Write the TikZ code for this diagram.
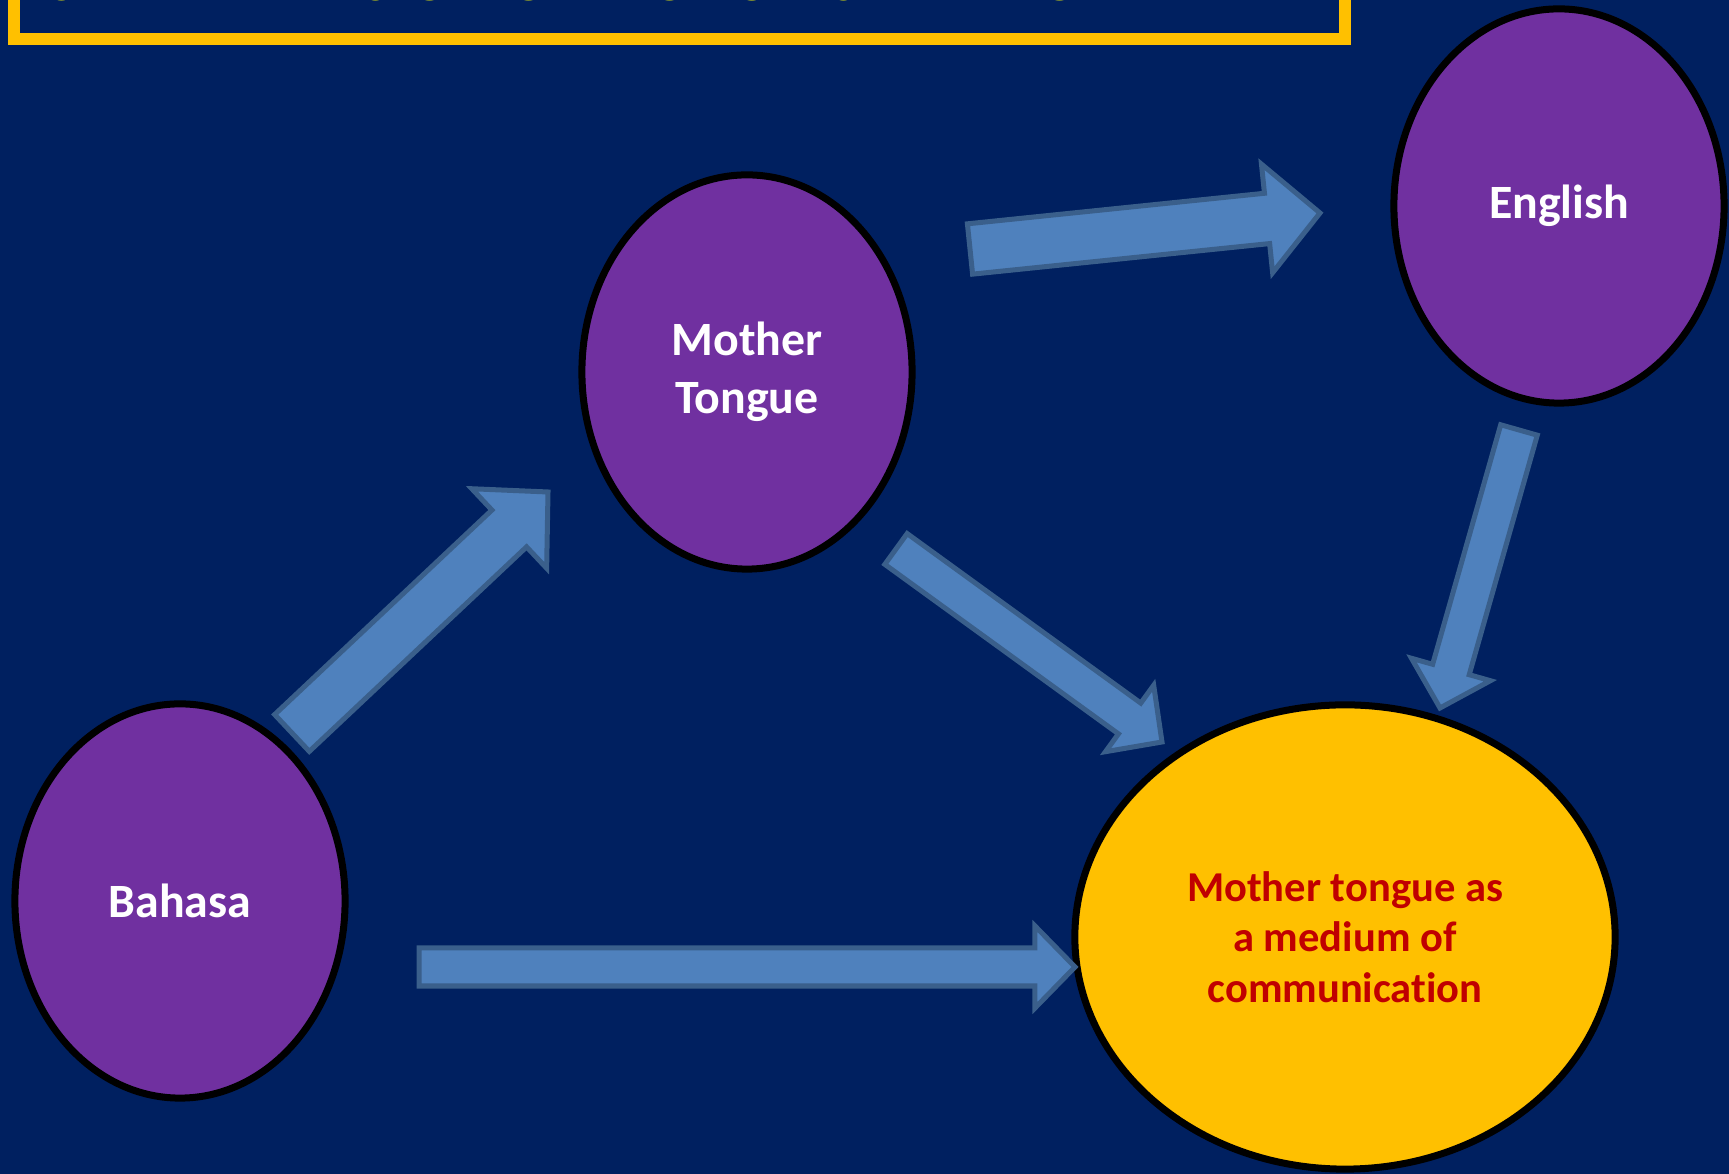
\documentclass[tikz,border=0pt]{standalone}
\usepackage{fontspec}
\setmainfont{Carlito}[Ligatures=NoCommon]
\usetikzlibrary{shapes.geometric,calc}
\definecolor{slidebg}{HTML}{002060}
\definecolor{langpurple}{HTML}{7030A0}
\definecolor{goldfill}{HTML}{FFC000}
\definecolor{arrowfill}{HTML}{4F81BD}
\definecolor{arrowline}{HTML}{3A5F8B}
\definecolor{darkred}{HTML}{C00000}
\definecolor{titleyellow}{HTML}{FFFF00}

\tikzset{%
  % Specifications for style of nodes:
        lang/.style = {ellipse, draw=black, line width=0.07cm, fill=langpurple,
                       minimum width=3.30cm, minimum height=3.94cm, inner sep=0pt,
                       text=white, align=center,
                       font=\fontsize{13.6}{16.6}\selectfont\bfseries},
        goal/.style = {lang, fill=goldfill, text=darkred,
                       minimum width=5.40cm, minimum height=4.64cm,
                       font=\fontsize{12.1}{14.4}\selectfont\bfseries},
  blockarrow/.style = {fill=arrowfill, draw=arrowline, line width=0.05cm, line join=miter},
}

% fat arrow from #2 to #3, #1 = size factor
\newcommand{\blockarrow}[3][1]{%
  \coordinate (ab) at ($(#3)!#1*0.40cm!(#2)$);
  \draw[blockarrow] ($(#2)!#1*0.19cm!90:(#3)$) -- ($(ab)!#1*0.19cm!-90:(#2)$)
    -- ($(ab)!#1*0.41cm!-90:(#2)$) -- (#3) -- ($(ab)!#1*0.41cm!90:(#2)$)
    -- ($(ab)!#1*0.19cm!90:(#2)$) -- ($(#2)!#1*0.19cm!-90:(#3)$) -- cycle;
}

\begin{document}
\begin{tikzpicture}[x=0.01cm, y=-0.01cm]
  \useasboundingbox (0,0) rectangle (1729,1174);
  \fill[slidebg] (0,0) rectangle (1729,1174);

  % title frame (cut by the top of the slide)
  \node (title) [anchor=base west, text=titleyellow, font=\fontsize{18}{20}\selectfont\bfseries]
    at (33,1) {3 MAIN VERSION OF MODULES DEVELOPMENT};
  \draw[goldfill, line width=0.12cm] (14,-100) rectangle (1345,39);

  % Specification of nodes (position, etc.)
  \node (mother)  [lang] at (747,372) {Mother\\Tongue};
  \node (english) [lang] at (1559,206) {English};
  \node (bahasa)  [lang] at (180,901) {Bahasa};
  \node (medium)  [goal] at (1345,937) {Mother tongue as\\a medium of\\communication};

  % arrow ends
  \coordinate (b2m-s) at (292,733);  \coordinate (b2m-e) at (548,492);
  \coordinate (m2e-s) at (970,249);  \coordinate (m2e-e) at (1320,213);
  \coordinate (m2c-s) at (896,549);  \coordinate (m2c-e) at (1162,742);
  \coordinate (e2c-s) at (1519,430); \coordinate (e2c-e) at (1440,708);
  \coordinate (b2c-s) at (419,967);  \coordinate (b2c-e) at (1075,967);

  \blockarrow[1.33]{b2m-s}{b2m-e}
  \blockarrow[1.33]{m2e-s}{m2e-e}
  \blockarrow{m2c-s}{m2c-e}
  \blockarrow{e2c-s}{e2c-e}
  \blockarrow{b2c-s}{b2c-e}
\end{tikzpicture}
\end{document}
